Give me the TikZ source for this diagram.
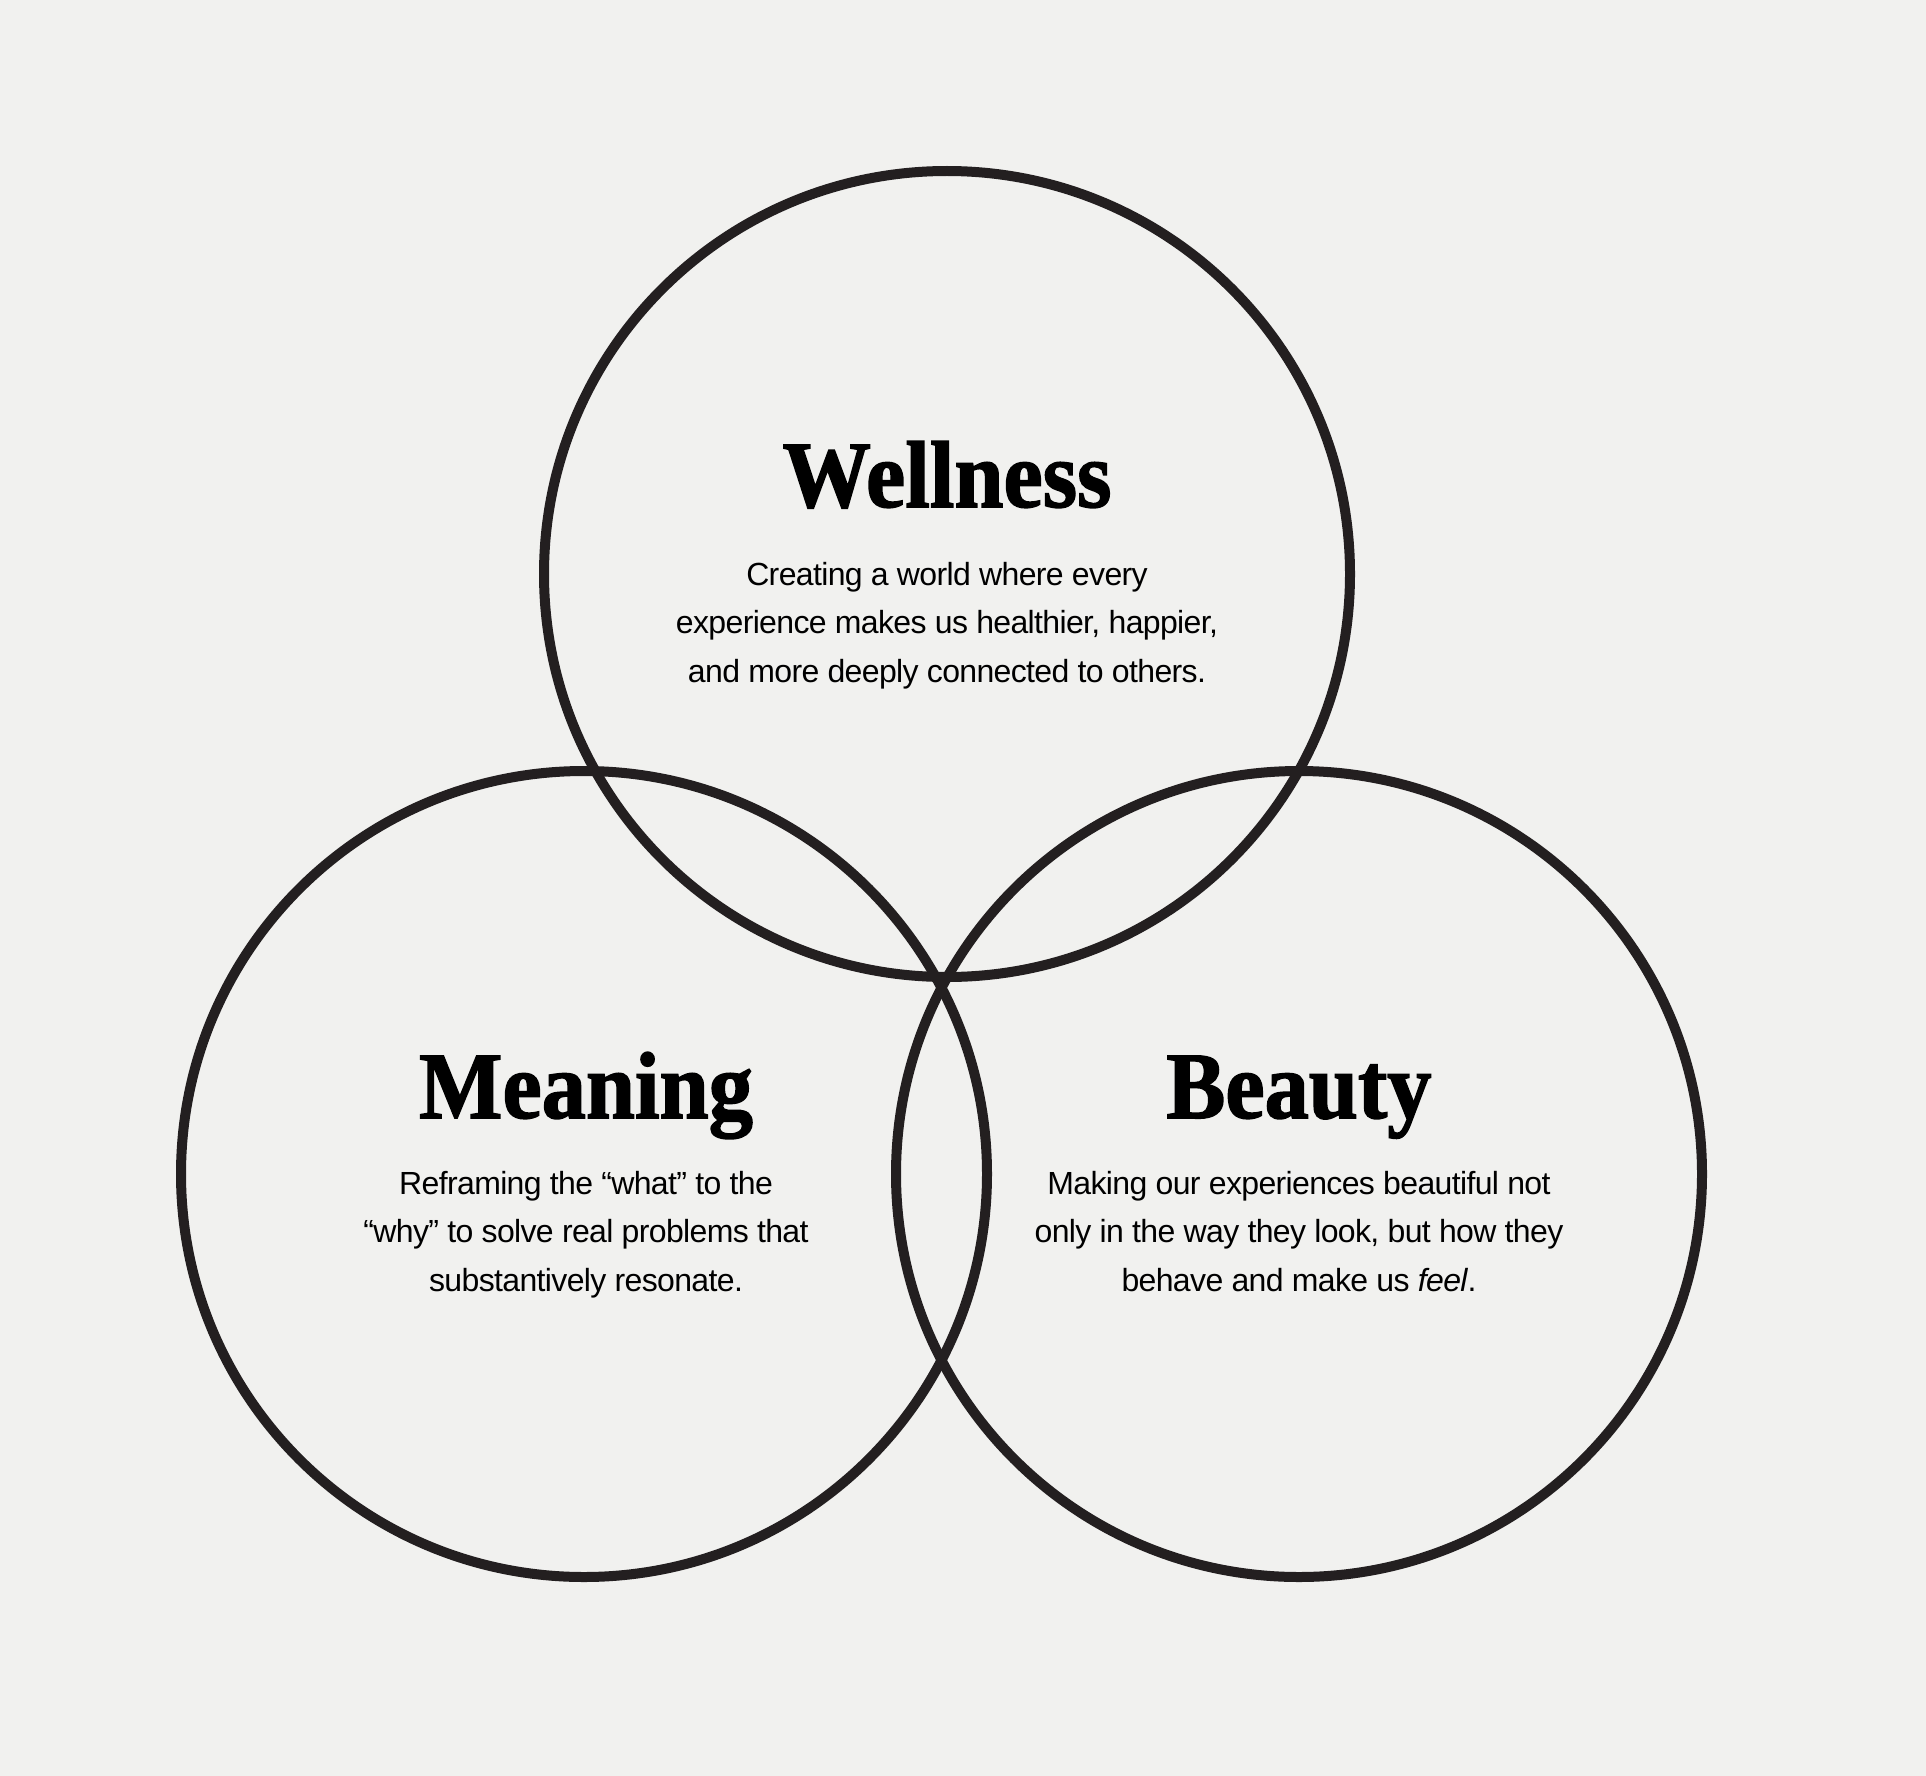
\documentclass[tikz,border=0pt]{standalone}
\usepackage{fontspec}
\setmainfont{Liberation Sans}[LetterSpace=-2]
\newfontfamily\headfont{Liberation Serif}[UprightFont=* Bold, UprightFeatures={FakeBold=1.6, FakeStretch=0.93}]
\definecolor{paper}{HTML}{F1F1EF}
\definecolor{ink}{HTML}{231F20}
\tikzset{
  ring/.style = {draw=ink, line width=10pt, circle, minimum size=806pt, inner sep=0pt},
  headline/.style = {font=\headfont\fontsize{95}{95}\selectfont, anchor=base, inner sep=0pt},
  blurb/.style = {font=\fontsize{32}{48.5}\selectfont, align=center, anchor=base, inner sep=0pt}
}

\begin{document}
\begin{tikzpicture}[x=1pt,y=-1pt]
  % canvas
  \fill[paper] (0,0) rectangle (1926,1776);
  \useasboundingbox (0,0) rectangle (1926,1776);
  % rings
  \node[ring] (wellness) at (947,574)  {};
  \node[ring] (meaning)  at (584,1174) {};
  \node[ring] (beauty)   at (1299,1174) {};
  % headlines
  \node[headline] (wellnesshead) at (947,507)  {Wellness};
  \node[headline] (meaninghead)  at (586,1118) {Meaning};
  \node[headline] (beautyhead)   at (1299,1118) {Beauty};
  % blurbs (anchored on the last line)
  \node[blurb] (wellnesstext) at (947,682)
    {Creating a world where every\\experience makes us healthier, happier,\\and more deeply connected to others.};
  \node[blurb] (meaningtext) at (586,1291)
    {Reframing the “what” to the\\“why” to solve real problems that\\substantively resonate.};
  \node[blurb] (beautytext) at (1299,1291)
    {Making our experiences beautiful not\\only in the way they look, but how they\\behave and make us \textit{feel}.};
\end{tikzpicture}
\end{document}
